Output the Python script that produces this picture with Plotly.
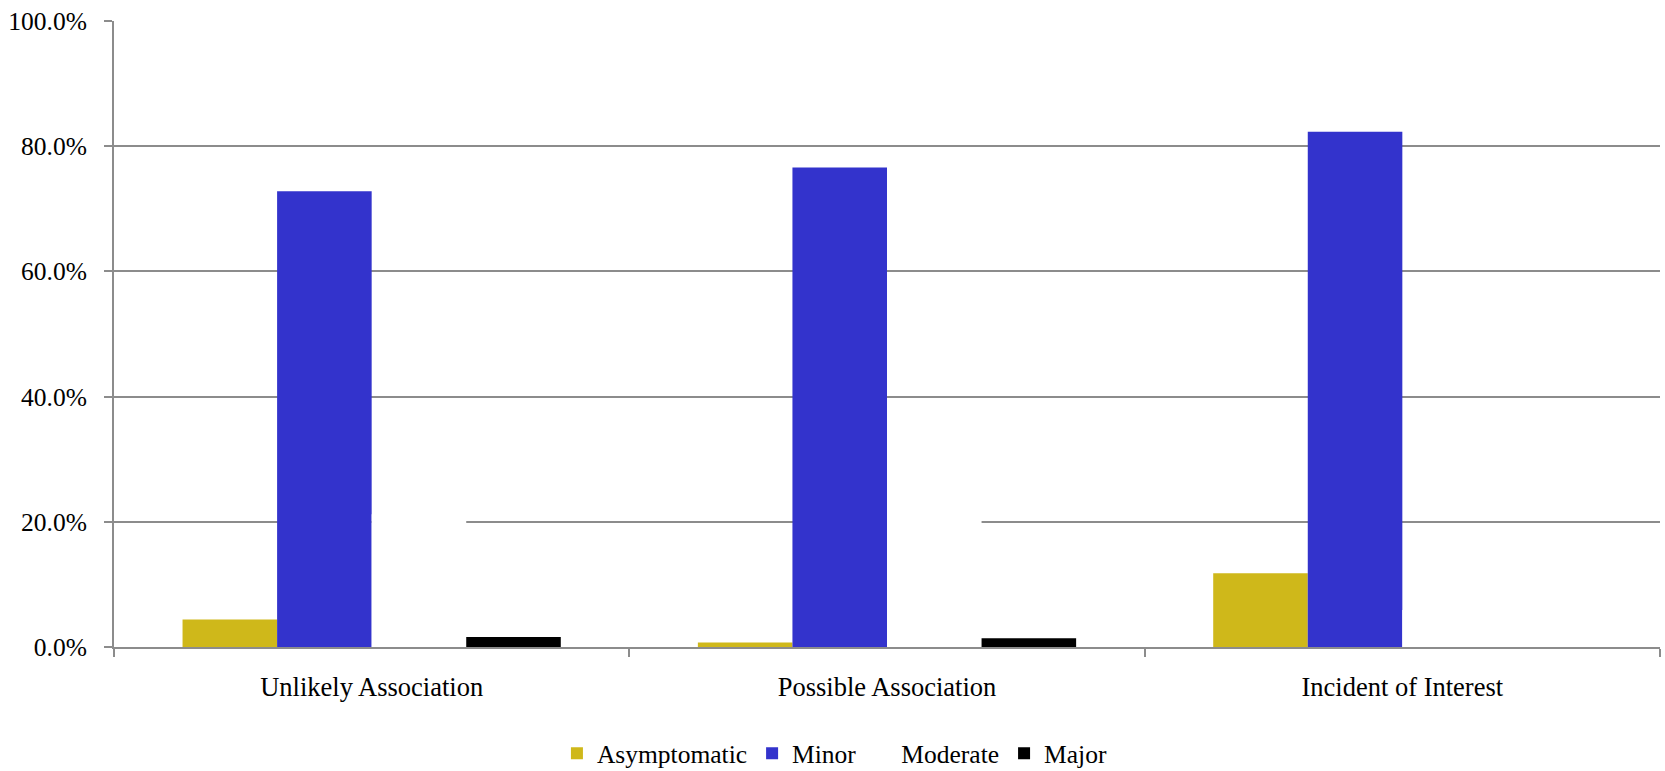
import plotly.graph_objects as go

categories = ["Unlikely Association", "Possible Association", "Incident of Interest"]
series_names = ["Asymptomatic", "Minor", "Moderate", "Major"]
asymptomatic = [0.044, 0.007, 0.118]
minor = [0.728, 0.766, 0.823]
moderate = [0.212, 0.214, 0.059]
major = [0.016, 0.014, 0.0]
y_ticks = [0.0, 0.2, 0.4, 0.6, 0.8, 1.0]

series_values = [asymptomatic, minor, moderate, major]
series_colors = ["#CFB81A", "#3333CC", "#FFFFFF", "#000000"]

FONT = "Liberation Serif"
AXIS_GRAY = "#8C8C8C"

fig = go.Figure()
for name, vals, color in zip(series_names, series_values, series_colors):
    fig.add_trace(go.Bar(
        x=categories, y=vals, name=name,
        marker=dict(color=color, line=dict(width=0)),
    ))

fig.update_layout(
    width=1665, height=771,
    margin=dict(l=114, r=5, t=21, b=124, autoexpand=False),
    paper_bgcolor="white", plot_bgcolor="white",
    barmode="group", bargap=0.266, bargroupgap=0,
    font=dict(family=FONT, size=26, color="black"),
    showlegend=True,
    legend=dict(
        orientation="h", x=0.466, xanchor="center", y=-0.133, yanchor="top",
        font=dict(family=FONT, size=25.5, color="black"),
        itemwidth=30, itemsizing="constant", traceorder="normal",
    ),
)

fig.update_xaxes(
    showgrid=False, showline=True, linecolor=AXIS_GRAY, linewidth=2,
    ticks="outside", tickson="boundaries", ticklen=8, tickcolor=AXIS_GRAY, tickwidth=2,
    tickfont=dict(family=FONT, size=26.5, color="black"),
    ticklabelstandoff=15, automargin=False,
)
fig.update_yaxes(
    range=[0, 1.0], tickvals=y_ticks, tickformat=".1%",
    showgrid=True, gridcolor=AXIS_GRAY, gridwidth=1.5,
    showline=True, linecolor=AXIS_GRAY, linewidth=2,
    ticks="outside", ticklen=8, tickcolor=AXIS_GRAY, tickwidth=1.5,
    tickfont=dict(family=FONT, size=25.5, color="black"),
    ticklabelstandoff=12, zeroline=False, automargin=False,
)

fig.write_html("out.html")
